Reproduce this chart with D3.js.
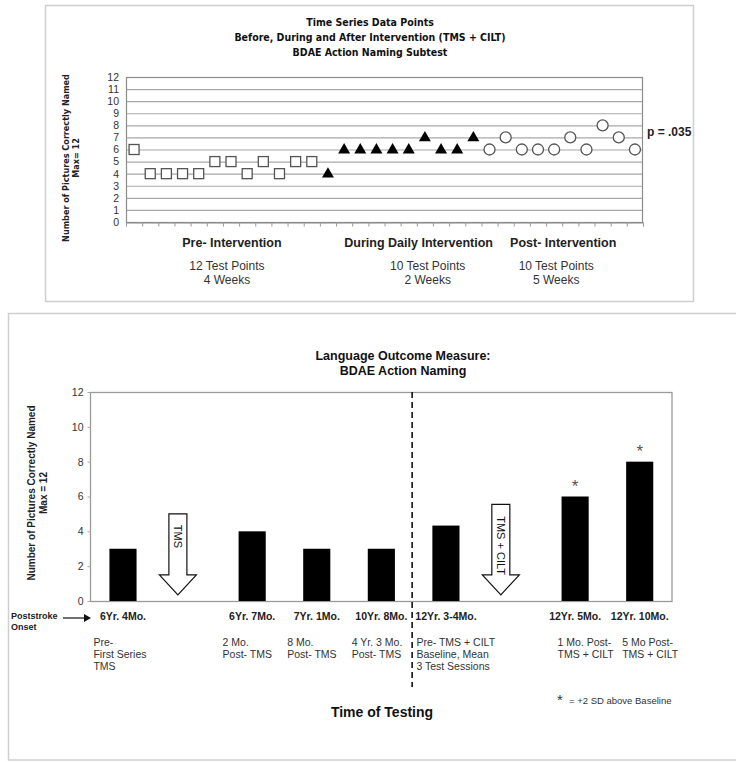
<!DOCTYPE html>
<html><head><meta charset="utf-8">
<script src="https://cdn.jsdelivr.net/npm/d3@7"></script>
<style>
body{margin:0;background:#fff;}
svg{display:block;font-family:"Liberation Sans",Arial,sans-serif;}
.tah{font-family:"DejaVu Sans Condensed","DejaVu Sans",sans-serif;font-stretch:condensed;}
</style>
</head><body><svg id="c" width="736" height="762"></svg>
<script>
// ---------- Top chart data ----------
const preValues = [6,4,4,4,4,5,5,4,5,4,5,5];
const duringValues = [4,6,6,6,6,6,7,6,6,7];
const postValues = [6,7,6,6,6,7,6,8,7,6];
const topYTicks = [0,1,2,3,4,5,6,7,8,9,10,11,12];
const phaseLabels = ["Pre- Intervention","During Daily Intervention","Post- Intervention"];
const phaseNotes = [["12 Test Points","4 Weeks"],["10 Test Points","2 Weeks"],["10 Test Points","5 Weeks"]];
const topTitle = ["Time Series Data Points","Before, During and After Intervention (TMS + CILT)","BDAE Action Naming Subtest"];
const pLabel = "p = .035";

// ---------- Bottom chart data ----------
const testCategories = ["6Yr. 4Mo.","TMS","6Yr. 7Mo.","7Yr. 1Mo.","10Yr. 8Mo.","12Yr. 3-4Mo.","TMS + CILT","12Yr. 5Mo.","12Yr. 10Mo."];
const testDates = ["6Yr. 4Mo.","","6Yr. 7Mo.","7Yr. 1Mo.","10Yr. 8Mo.","12Yr. 3-4Mo.","","12Yr. 5Mo.","12Yr. 10Mo."];
const testValues = [3,null,4,3,3,4.33,null,6,8];
const testNotes = [["Pre-","First Series","TMS"],[],["2 Mo.","Post- TMS"],["8 Mo.","Post- TMS"],["4 Yr. 3 Mo.","Post- TMS"],["Pre- TMS + CILT","Baseline, Mean","3 Test Sessions"],[],["1 Mo. Post-","TMS + CILT"],["5 Mo Post-","TMS + CILT"]];
const significant = [false,false,false,false,false,false,false,true,true];
const bottomYTicks = [0,2,4,6,8,10,12];
const interventionSlots = ["TMS","TMS + CILT"];
const interventionTops = [5.0,5.55];
const bottomTitle = ["Language Outcome Measure:","BDAE Action Naming"];

const svg = d3.select("#c");

// ================= TOP CHART =================
svg.append("rect").attr("x",45.5).attr("y",5.5).attr("width",648).attr("height",296)
  .attr("fill","none").attr("stroke","#cfcfcf").attr("stroke-width",1.5);

const points = [
  ...preValues.map(v=>({v,t:"pre"})),
  ...duringValues.map(v=>({v,t:"during"})),
  ...postValues.map(v=>({v,t:"post"}))
].map((d,i)=>({...d,i}));

const tx = d3.scaleBand().domain(d3.range(points.length)).range([126,643]);
const ty = d3.scaleLinear().domain([0,12]).range([222,77]);
const tl = d3.scaleLinear().domain([0,points.length]).range([126,643]);

// gridlines
svg.append("g").selectAll("line").data(topYTicks.slice(1,-1)).join("line")
  .attr("x1",126).attr("x2",643).attr("y1",d=>ty(d)+0.5).attr("y2",d=>ty(d)+0.5)
  .attr("stroke","#a8a8a8").attr("stroke-width",1.2);
svg.append("rect").attr("x",126.5).attr("y",ty(12)+0.5).attr("width",516).attr("height",ty(0)-ty(12))
  .attr("fill","none").attr("stroke","#8c8c8c").attr("stroke-width",1.2);

// y axis
const tyAxis = svg.append("g").attr("transform","translate(126,0)")
  .call(d3.axisLeft(ty).tickValues(topYTicks).tickSize(0).tickPadding(7));
tyAxis.select(".domain").remove();
tyAxis.selectAll("text").attr("font-size",10.5).attr("fill","#333").attr("font-family","Liberation Sans, Arial");

// x axis ticks
const txAxis = svg.append("g").attr("transform",`translate(0,${ty(0)+0.5})`)
  .call(d3.axisBottom(tl).tickValues(d3.range(points.length+1)).tickSize(4).tickFormat(""));
txAxis.select(".domain").attr("stroke","#8c8c8c");
txAxis.selectAll(".tick line").attr("stroke","#9a9a9a");

// markers
const mk = svg.append("g");
mk.selectAll("rect").data(points.filter(d=>d.t==="pre")).join("rect")
  .attr("x",d=>tx(d.i)+tx.bandwidth()/2-5).attr("y",d=>ty(d.v)-5)
  .attr("width",10).attr("height",10).attr("fill","#fff").attr("stroke","#555").attr("stroke-width",1.3);
mk.selectAll("path").data(points.filter(d=>d.t==="during")).join("path")
  .attr("d",d3.symbol(d3.symbolTriangle).size(62))
  .attr("transform",d=>`translate(${tx(d.i)+tx.bandwidth()/2},${ty(d.v)+0.5})`)
  .attr("fill","#000");
mk.selectAll("circle").data(points.filter(d=>d.t==="post")).join("circle")
  .attr("cx",d=>tx(d.i)+tx.bandwidth()/2).attr("cy",d=>ty(d.v))
  .attr("r",5.5).attr("fill","#fff").attr("stroke","#555").attr("stroke-width",1.3);

// titles
svg.append("g").attr("class","tah").selectAll("text").data(topTitle).join("text")
  .attr("x",370).attr("y",(d,i)=>22.5+i*15).attr("dy","0.35em").attr("text-anchor","middle")
  .attr("font-size",10.5).attr("font-weight","bold").attr("fill","#111").text(d=>d);

// y title
svg.append("g").attr("class","tah").selectAll("text").data(["Number of Pictures Correctly Named","Max= 12"]).join("text")
  .attr("transform",(d,i)=>`translate(${66+i*10},158) rotate(-90)`).attr("dy","0.35em")
  .attr("text-anchor","middle").attr("font-size",9).attr("font-weight","bold").attr("fill","#222").text(d=>d);

// p value
svg.append("text").attr("x",647).attr("y",132).attr("dy","0.35em").attr("font-size",12)
  .attr("font-weight","bold").attr("fill","#222").text(pLabel);

// phase labels
const groups = [[0,preValues.length],[preValues.length,preValues.length+duringValues.length],[preValues.length+duringValues.length,points.length]];
const labelShift = [9,18,1], noteShift = [4,27,-6];
groups.forEach((g,k)=>{
  const cx = (tl(g[0])+tl(g[1]))/2;
  svg.append("text").attr("x",cx+labelShift[k]).attr("y",243).attr("dy","0.35em").attr("text-anchor","middle")
    .attr("font-size",12.5).attr("font-weight","bold").attr("fill","#222").text(phaseLabels[k]);
  phaseNotes[k].forEach((t,j)=>{
    svg.append("text").attr("x",cx+noteShift[k]).attr("y",266+j*13.5).attr("dy","0.35em").attr("text-anchor","middle")
      .attr("font-size",12).attr("fill","#333").text(t);
  });
});

// ================= BOTTOM CHART =================
svg.append("rect").attr("x",8.5).attr("y",313.5).attr("width",760).attr("height",446.5)
  .attr("fill","none").attr("stroke","#cfcfcf").attr("stroke-width",1.5);

const bx = d3.scaleBand().domain(testCategories).range([90.7,672]).paddingInner(0.58).paddingOuter(0.29);
const by = d3.scaleLinear().domain([0,12]).range([601,392]);
const bw = bx.bandwidth(), step = bx.step();

svg.append("rect").attr("x",90.5).attr("y",392.5).attr("width",581.5).attr("height",by(0)-by(12))
  .attr("fill","none").attr("stroke","#9a9a9a").attr("stroke-width",1.3);

const byAxis = svg.append("g").attr("transform","translate(90.5,0)")
  .call(d3.axisLeft(by).tickValues(bottomYTicks).tickSize(3).tickPadding(4));
byAxis.select(".domain").remove();
byAxis.selectAll(".tick line").attr("stroke","#aaa");
byAxis.selectAll("text").attr("font-size",10.5).attr("fill","#333").attr("font-family","Liberation Sans, Arial");

// bars
const barData = testCategories.map((c,i)=>({c,v:testValues[i],sig:significant[i],date:testDates[i],notes:testNotes[i],i}));
svg.append("g").selectAll("rect").data(barData.filter(d=>d.v!=null)).join("rect")
  .attr("x",d=>bx(d.c)).attr("y",d=>by(d.v)).attr("width",bw).attr("height",d=>by(0)-by(d.v)).attr("fill","#000");

// significance stars
svg.append("g").selectAll("text").data(barData.filter(d=>d.sig)).join("text")
  .attr("x",d=>bx(d.c)+bw/2).attr("y",d=>by(d.v)-5).attr("text-anchor","middle")
  .attr("font-size",17).attr("fill","#555").text("*");

// dashed divider
const divX = bx("12Yr. 3-4Mo.") - step*bx.paddingInner()/2 - 1.5;
svg.append("line").attr("x1",divX).attr("x2",divX).attr("y1",392).attr("y2",687)
  .attr("stroke","#111").attr("stroke-width",1.6).attr("stroke-dasharray","6,4");

// intervention arrows
interventionSlots.forEach((s,k)=>{
  const cx = bx(s)+bw/2-0.15*step;
  const top = by(interventionTops[k]), hs = by(1.5), tip = by(0.35);
  const sw = 9, hw = 18.5;
  const p = d3.path();
  p.moveTo(cx-sw,top); p.lineTo(cx+sw,top); p.lineTo(cx+sw,hs); p.lineTo(cx+hw,hs);
  p.lineTo(cx,tip); p.lineTo(cx-hw,hs); p.lineTo(cx-sw,hs); p.closePath();
  svg.append("path").attr("d",p.toString()).attr("fill","#fff").attr("stroke","#111").attr("stroke-width",1.2);
  const ty2 = k===0 ? (top+hs)/2 - 8 : (top+hs)/2 + 6;
  svg.append("text").attr("transform",`translate(${cx},${ty2}) rotate(90)`).attr("text-anchor","middle")
    .attr("dy","0.35em").attr("font-size",11).attr("fill","#111").text(interventionSlots[k]);
});

// date labels
svg.append("g").selectAll("text").data(barData.filter(d=>d.date)).join("text")
  .attr("x",d=>bx(d.c)+bw/2).attr("y",616).attr("dy","0.35em").attr("text-anchor","middle")
  .attr("font-size",10.5).attr("font-weight","bold").attr("fill","#222").text(d=>d.date);

// notes
barData.forEach(d=>{
  const dx = d.i>=7 ? -4 : -16;
  d.notes.forEach((t,j)=>{
    svg.append("text").attr("x",bx(d.c)+dx).attr("y",642+j*12).attr("dy","0.35em")
      .attr("font-size",10.5).attr("fill","#333").text(t);
  });
});

// Poststroke onset
svg.append("g").selectAll("text").data(["Poststroke","Onset"]).join("text")
  .attr("x",11).attr("y",(d,i)=>616+i*11).attr("dy","0.35em").attr("font-size",9)
  .attr("font-weight","bold").attr("fill","#222").text(d=>d);
svg.append("line").attr("x1",63).attr("x2",84).attr("y1",618).attr("y2",618).attr("stroke","#111").attr("stroke-width",1.2);
svg.append("path").attr("d","M84,614L91,618L84,622Z").attr("fill","#111");

// y title
svg.append("g").selectAll("text").data(["Number of Pictures Correctly Named","Max = 12"]).join("text")
  .attr("transform",(d,i)=>`translate(${31+i*12},493) rotate(-90)`).attr("dy","0.35em")
  .attr("text-anchor","middle").attr("font-size",10).attr("font-weight","bold").attr("fill","#222").text(d=>d);

// title
svg.append("g").selectAll("text").data(bottomTitle).join("text")
  .attr("x",403).attr("y",(d,i)=>356+i*15).attr("dy","0.35em").attr("text-anchor","middle")
  .attr("font-size",12.5).attr("font-weight","bold").attr("fill","#111").text(d=>d);

// x title
svg.append("text").attr("x",382).attr("y",712).attr("dy","0.35em").attr("text-anchor","middle")
  .attr("font-size",14).attr("font-weight","bold").attr("fill","#111").text("Time of Testing");

// footnote
svg.append("text").attr("x",557).attr("y",705).attr("font-size",15).attr("fill","#333").text("*");
svg.append("text").attr("x",569).attr("y",701).attr("dy","0.35em").attr("font-size",9.5).attr("fill","#333").text("= +2 SD above Baseline");
</script>
</body></html>
